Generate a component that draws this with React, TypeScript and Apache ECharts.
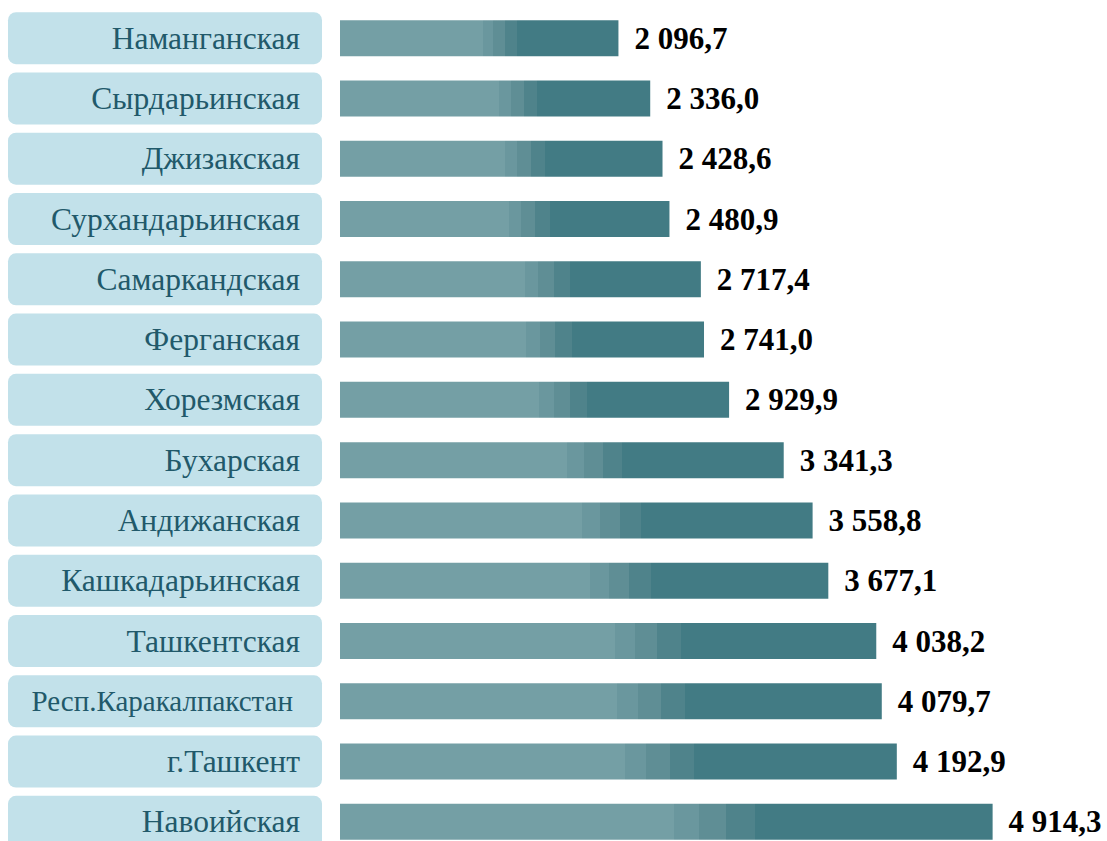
import React, { useEffect, useRef } from "react";
import * as echarts from "echarts";

const categories = [
  "Наманганская",
  "Сырдарьинская",
  "Джизакская",
  "Сурхандарьинская",
  "Самаркандская",
  "Ферганская",
  "Хорезмская",
  "Бухарская",
  "Андижанская",
  "Кашкадарьинская",
  "Ташкентская",
  "Респ.Каракалпакстан",
  "г.Ташкент",
  "Навоийская",
];

const values = [
  2096.7, 2336.0, 2428.6, 2480.9, 2717.4, 2741.0, 2929.9, 3341.3, 3558.8,
  3677.1, 4038.2, 4079.7, 4192.9, 4914.3,
];

const fmt = (v: number) => {
  const [i, d] = v.toFixed(1).split(".");
  return i.replace(/\B(?=(\d{3})+(?!\d))/g, " ") + "," + d;
};

const LIGHT = "#749fa5";
const S1 = "#6a979e";
const S2 = "#5f8e95";
const S3 = "#4f838b";
const DARK = "#427b84";

export default function App() {
  const ref = useRef<HTMLDivElement>(null);
  useEffect(() => {
    if (!ref.current) return;
    const chart = echarts.init(ref.current, undefined, { renderer: "svg" });
    const grad = new echarts.graphic.LinearGradient(0, 0, 1, 0, [
      { offset: 0, color: LIGHT },
      { offset: 0.512, color: LIGHT },
      { offset: 0.512, color: S1 },
      { offset: 0.55, color: S1 },
      { offset: 0.55, color: S2 },
      { offset: 0.592, color: S2 },
      { offset: 0.592, color: S3 },
      { offset: 0.636, color: S3 },
      { offset: 0.636, color: DARK },
      { offset: 1, color: DARK },
    ]);
    chart.setOption({
      animation: false,
      grid: { left: 340, top: 8, width: 664, height: 844 },
      xAxis: {
        type: "value",
        min: 0,
        max: 5000,
        show: false,
      },
      yAxis: {
        type: "category",
        inverse: true,
        data: categories,
        axisLine: { show: false },
        axisTick: { show: false },
        axisLabel: {
          margin: 18,
          width: 292,
          height: 52,
          lineHeight: 52,
          align: "right",
          padding: [0, 22, 0, 0],
          backgroundColor: "#c2e1ea",
          borderRadius: 8,
          color: "#21596a",
          fontFamily: "Liberation Serif",
          fontSize: 31.5,
          formatter: (v: string) =>
            v.length > 17 ? "{s|" + v + "}" : v,
          rich: {
            s: {
              fontSize: 29,
              fontFamily: "Liberation Serif",
              color: "#21596a",
              padding: [0, 7, 0, 0],
            },
          },
        },
      },
      series: [
        {
          type: "bar",
          data: values,
          barWidth: 36,
          itemStyle: { color: grad },
          label: {
            show: true,
            position: "right",
            distance: 16,
            formatter: (p: any) => fmt(p.value),
            fontFamily: "Liberation Serif",
            fontWeight: "bold",
            fontSize: 31,
            color: "#000",
          },
        },
      ],
    });
    return () => chart.dispose();
  }, []);
  return (
    <div
      style={{
        position: "fixed",
        left: 0,
        top: 0,
        width: 1107,
        height: 841,
        overflow: "hidden",
        background: "#fff",
      }}
    >
      <div ref={ref} style={{ width: 1107, height: 852 }} />
    </div>
  );
}
